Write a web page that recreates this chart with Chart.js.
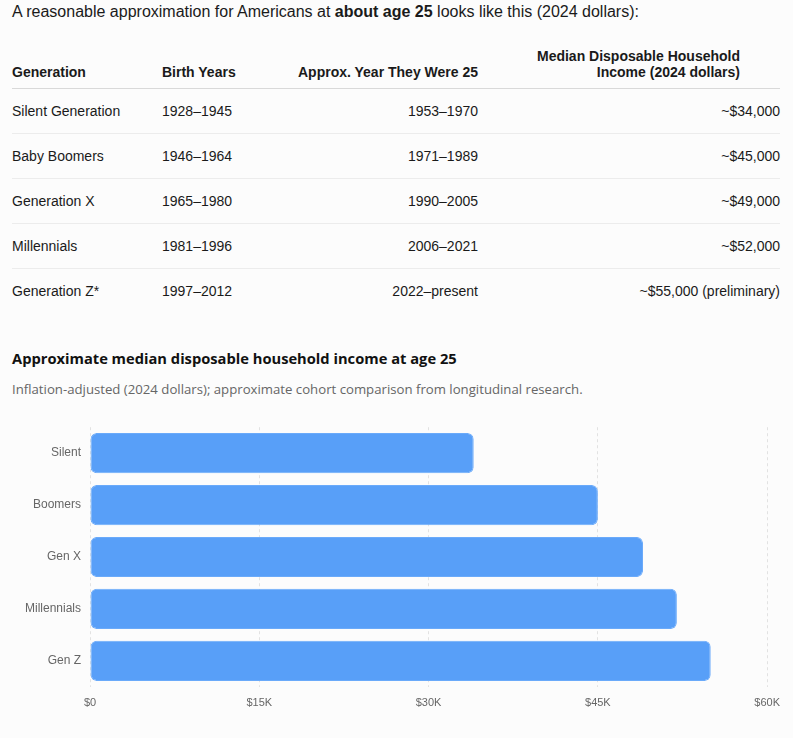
<!DOCTYPE html>
<html>
<head>
<meta charset="utf-8">
<script src="https://cdn.jsdelivr.net/npm/chart.js@4.4.1/dist/chart.umd.min.js"></script>
<style>
  html, body { margin: 0; padding: 0; background: #fcfcfc; }
  body { font-family: "Liberation Sans", Arial, sans-serif; color: #1a1a1a; width: 793px; }
  .intro { position: absolute; left: 12px; top: 3px; font-size: 16px; margin: 0; }
  table { position: absolute; left: 12px; top: 48px; width: 768px; border-collapse: collapse; font-size: 14px; }
  th { font-weight: bold; text-align: left; padding: 0 0 8px 0; border-bottom: 1px solid #d9d9d9; vertical-align: bottom; line-height: 16px; }
  td { height: 44px; padding: 0; border-bottom: 1px solid #ececec; }
  tr:last-child td { border-bottom: none; }
  .r { text-align: right; }
  h3 { position: absolute; left: 12px; top: 348px; margin: 0; font-family: "Open Sans", sans-serif; font-size: 14.7px; font-weight: bold; color: #111; }
  .sub { position: absolute; left: 12px; top: 380px; margin: 0; font-family: "Open Sans", sans-serif; font-size: 13.2px; color: #666; }
  .wrap { position: absolute; left: 12px; top: 411px; width: 778px; height: 319px; }
</style>
</head>
<body>
<p class="intro">A reasonable approximation for Americans at <b>about age 25</b> looks like this (2024 dollars):</p>
<table>
  <thead>
    <tr>
      <th style="width:150px">Generation</th>
      <th style="width:120px">Birth Years</th>
      <th class="r" style="width:196px">Approx. Year They Were 25</th>
      <th class="r" style="padding-right:40px">Median Disposable Household<br>Income (2024 dollars)</th>
    </tr>
  </thead>
  <tbody id="rows"></tbody>
</table>
<h3>Approximate median disposable household income at age 25</h3>
<p class="sub">Inflation-adjusted (2024 dollars); approximate cohort comparison from longitudinal research.</p>
<div class="wrap"><canvas id="myChart"></canvas></div>
<script>
var generations = ['Silent Generation', 'Baby Boomers', 'Generation X', 'Millennials', 'Generation Z*'];
var birthYears = ['1928–1945', '1946–1964', '1965–1980', '1981–1996', '1997–2012'];
var yearAt25 = ['1953–1970', '1971–1989', '1990–2005', '2006–2021', '2022–present'];
var incomeText = ['~$34,000', '~$45,000', '~$49,000', '~$52,000', '~$55,000 (preliminary)'];

var shortLabels = ['Silent', 'Boomers', 'Gen X', 'Millennials', 'Gen Z'];
var incomes = [34000, 45000, 49000, 52000, 55000];

var tbody = document.getElementById('rows');
for (var i = 0; i < generations.length; i++) {
    var tr = document.createElement('tr');
    tr.innerHTML = '<td>' + generations[i] + '</td><td>' + birthYears[i] + '</td>' +
        '<td class="r">' + yearAt25[i] + '</td><td class="r">' + incomeText[i] + '</td>';
    tbody.appendChild(tr);
}

const ctx = document.getElementById('myChart');

var myChart = new Chart(ctx, {
    type: 'bar',
    data: {
        labels: shortLabels,
        datasets: [{
            label: 'Median disposable income',
            data: incomes,
            backgroundColor: '#589ff8',
            borderColor: '#6aaafa',
            borderWidth: 1,
            borderSkipped: false,
            borderRadius: 6,
            barPercentage: 0.86,
            categoryPercentage: 0.9
        }]
    },
    options: {
        indexAxis: 'y',
        responsive: true,
        maintainAspectRatio: false,
        animation: false,
        layout: { padding: { left: 0, right: 0, top: 7, bottom: 10 } },
        plugins: { legend: { display: false }, tooltip: { enabled: false } },
        scales: {
            x: {
                min: 0,
                max: 60000,
                border: { display: false, dash: [3, 3] },
                grid: { color: '#e2e2e2', drawTicks: false },
                ticks: {
                    stepSize: 15000,
                    padding: 10,
                    color: '#666',
                    font: { family: 'Liberation Sans', size: 11 },
                    callback: function (v) { return v === 0 ? '$0' : '$' + (v / 1000) + 'K'; }
                }
            },
            y: {
                border: { display: false },
                grid: { display: false, drawTicks: false },
                afterFit: function (scale) { scale.width = 78; },
                ticks: { color: '#666', padding: 9, font: { family: 'Liberation Sans', size: 12 } }
            }
        }
    }
});
</script>
</body>
</html>
